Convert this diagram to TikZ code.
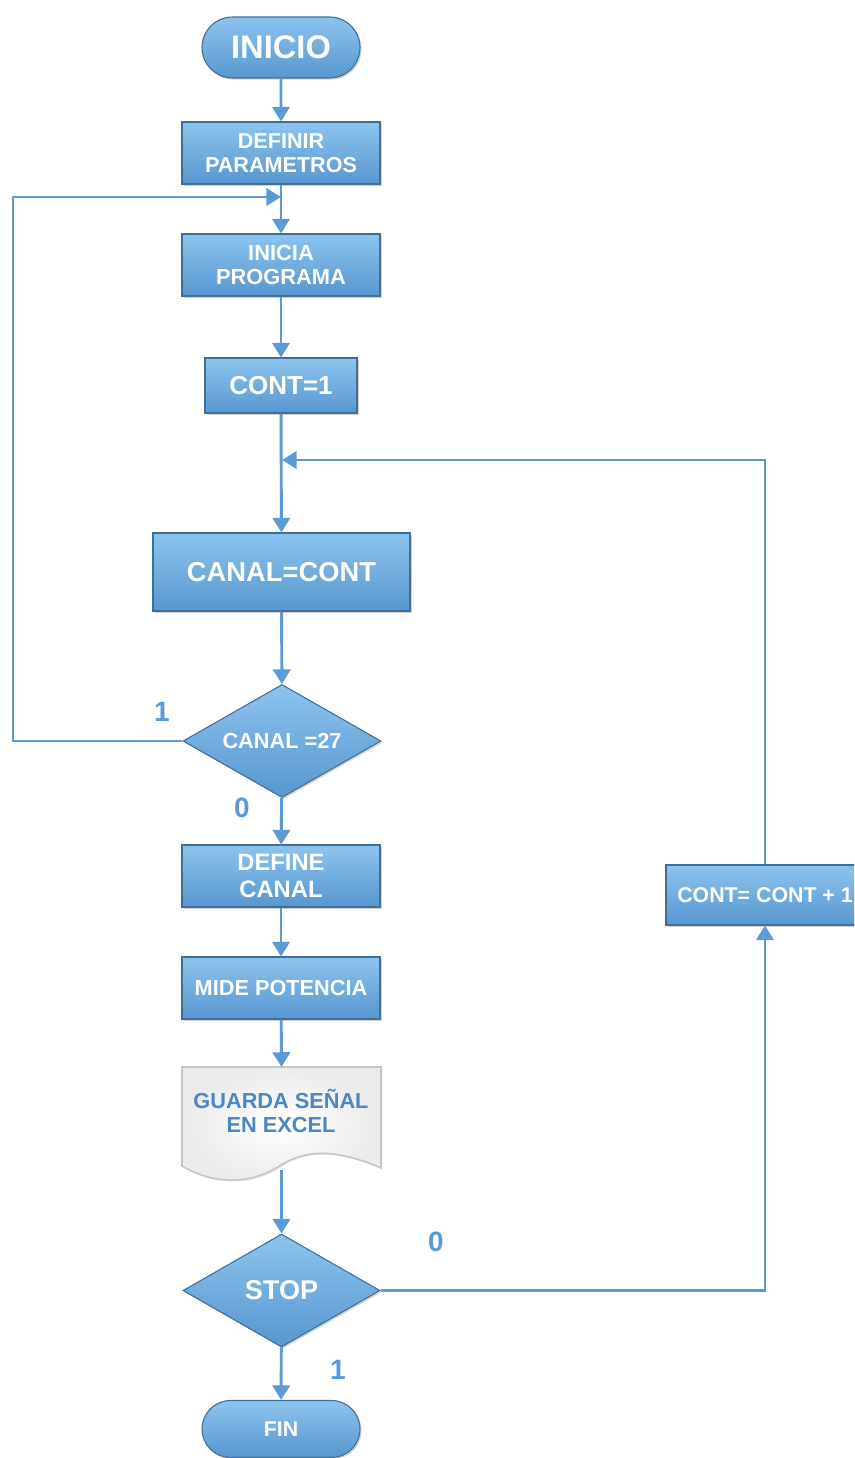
\documentclass[tikz,border=0pt]{standalone}
\usepackage{fontspec}
\setmainfont{Liberation Sans}
\usetikzlibrary{shapes.geometric,shapes.misc,arrows.meta,shadows,calc}
\definecolor{boxtop}{HTML}{8DC4EE}
\definecolor{boxbot}{HTML}{5796CF}
\definecolor{boxedge}{HTML}{3F6E99}
\definecolor{linec}{HTML}{5B9BD5}
\definecolor{doctext}{HTML}{4A87C4}
\tikzset{
 base/.style={draw=boxedge, line width=0.8pt, top color=boxtop, bottom color=boxbot, text=white, font=\bfseries, align=center, inner sep=0pt, drop shadow={opacity=0.35,shadow xshift=1.2pt,shadow yshift=-1.2pt}},
 procbox/.style={base, rectangle},
 capsule/.style={base, rounded rectangle},
 decision/.style={base, diamond, aspect=1.75},
 conn/.style={draw=linec, line width=2.2pt, -{Triangle[width=13pt,length=11pt]}},
 lbl/.style={text=linec, font=\bfseries\fontsize{21}{24}\selectfont},
 fs/.style={font=\bfseries\fontsize{#1}{#1}\selectfont},
}
\begin{document}
\begin{tikzpicture}[x=0.75pt,y=-0.75pt]
\useasboundingbox (0,0) rectangle (854,1458);
\clip (0,0) rectangle (854,1458);
% nodes
\node[capsule, minimum width=118.5pt, minimum height=45.75pt, fs=24.5] (inicio) at (281,47.5) {INICIO};
\node[procbox, minimum width=148.5pt, minimum height=46.5pt, fs=16.2] (def) at (281,153) {DEFINIR\\[2pt]PARAMETROS};
\node[procbox, minimum width=148.5pt, minimum height=46.5pt, fs=16.4] (ini) at (281,265) {INICIA\\[2pt]PROGRAMA};
\node[procbox, minimum width=114pt, minimum height=41.25pt, fs=19.5] (cont1) at (281,385.5) {CONT=1};
\node[procbox, minimum width=192.75pt, minimum height=58.5pt, fs=20.5] (canal) at (281.5,572) {CANAL=CONT};
\node[decision, minimum width=148.5pt, minimum height=84.75pt, fs=16.3] (c27) at (282,741) {CANAL =27};
\node[procbox, minimum width=148.5pt, minimum height=46.5pt, fs=17.8] (defc) at (281,876) {DEFINE\\[3pt]CANAL};
\node[procbox, minimum width=148.5pt, minimum height=46.5pt, fs=16.3] (mide) at (281,988) {MIDE POTENCIA};
\node[minimum width=149pt, minimum height=77pt, inner sep=0pt] (guarda) at (281.5,1118.5) {};
\path[draw=gray!45, line width=1.2pt, inner color=white, outer color=gray!16, drop shadow={opacity=0.2,shadow xshift=1pt,shadow yshift=-1pt}]
  (182,1067) -- (381,1067) -- (381,1168) .. controls (335,1148) and (305,1150) .. (281,1165) .. controls (250,1186) and (212,1184) .. (182,1166) -- cycle;
\node[text=doctext, align=center, fs=16.3] (gtext) at (281,1111) {GUARDA SEÑAL\\[2pt]EN EXCEL};
\node[decision, minimum width=147.75pt, minimum height=84.75pt, fs=20.3] (stop) at (281.5,1290.5) {STOP};
\node[capsule, minimum width=118.5pt, minimum height=42.75pt, fs=16] (fin) at (281,1429) {FIN};
\node[procbox, minimum width=148.5pt, minimum height=45pt, fs=16] (plus) at (765,895) {CONT= CONT + 1};
% helper coordinates
\coordinate (lx) at (13,197);
\coordinate (jn) at (281,197);
\coordinate (jr) at (282,460);
% connectors
\draw[conn] (inicio) -- (def);
\draw[conn] (def) -- (ini);
\draw[conn] (ini) -- (cont1);
\draw[conn] (cont1) -- (canal);
\draw[conn] (canal) -- (c27);
\draw[conn] (c27) -- (defc);
\draw[conn] (defc) -- (mide);
\draw[conn] (mide) -- (guarda.north);
\draw[conn] (guarda.south) -- (stop);
\draw[conn] (stop) -- (fin);
\draw[conn] (c27.west) -| (lx) -- (jn);
\draw[conn] (stop.east) -| (plus.south);
\draw[conn] (plus.north) |- (jr);
% labels
\node[lbl] (l1) at (162,712) {1};
\node[lbl] (l0) at (242,808) {0};
\node[lbl] (s0) at (436,1242) {0};
\node[lbl] (s1) at (338,1370) {1};
\end{tikzpicture}
\end{document}
